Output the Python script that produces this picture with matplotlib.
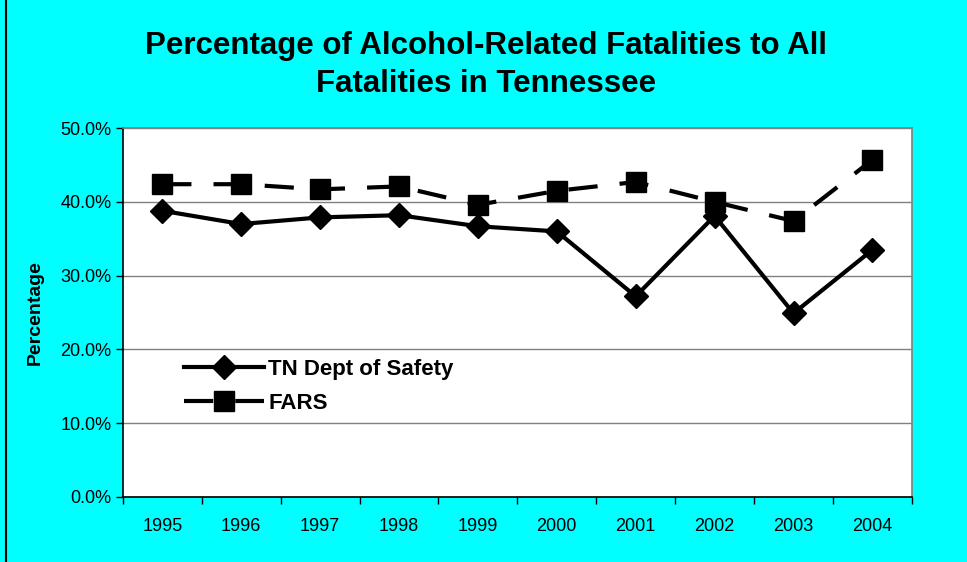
import matplotlib.pyplot as plt
from matplotlib.patches import Rectangle
from matplotlib.ticker import FixedLocator, PercentFormatter

years = ["1995", "1996", "1997", "1998", "1999", "2000", "2001", "2002", "2003", "2004"]
tn_safety = [38.8, 37.0, 37.9, 38.2, 36.7, 36.0, 27.2, 38.1, 24.9, 33.5]
fars = [42.4, 42.4, 41.7, 42.1, 39.6, 41.5, 42.7, 40.0, 37.4, 45.7]

CYAN = "#00ffff"
plt.rcParams["font.family"] = ["Liberation Sans", "DejaVu Sans"]


def main():
    fig = plt.figure(figsize=(9.67, 5.62), dpi=100, facecolor=CYAN)
    fig.patches.append(Rectangle((0.006, -0.01), 1.2, 1.2, transform=fig.transFigure,
                                 fill=False, edgecolor="black", linewidth=1.5))
    ax = fig.add_axes([0.127, 0.1157, 0.816, 0.6563])
    ax.set_facecolor("white")

    x = list(range(len(years)))
    ax.plot(x, tn_safety, color="black", linewidth=3, marker="D", markersize=12,
            label="TN Dept of Safety", zorder=3)
    ax.plot(x, fars, color="black", linewidth=3, linestyle=(0, (7, 5.3)), marker="s",
            markersize=15, label="FARS", zorder=3)

    ax.set_xlim(-0.5, len(years) - 0.5)
    ax.set_ylim(0, 50)
    ax.yaxis.set_major_locator(FixedLocator([0, 10, 20, 30, 40, 50]))
    ax.yaxis.set_major_formatter(PercentFormatter(decimals=1))
    ax.set_xticks(x)
    ax.set_xticklabels(years)
    ax.set_xticks([i - 0.5 for i in range(len(years) + 1)], minor=True)
    ax.tick_params(axis="x", which="major", length=0, pad=15, labelsize=13)
    ax.tick_params(axis="x", which="minor", length=5, width=1, direction="out")
    ax.tick_params(axis="y", length=5, width=1, direction="out", labelsize=13, pad=3)

    ax.grid(axis="y", color="#808080", linewidth=1)
    ax.set_axisbelow(True)
    for side in ("top", "right"):
        ax.spines[side].set_color("#808080")
        ax.spines[side].set_linewidth(1.2)
    for side in ("left", "bottom"):
        ax.spines[side].set_color("black")
        ax.spines[side].set_linewidth(1.2)

    ax.set_ylabel("Percentage", fontsize=14, fontweight="bold", labelpad=12)

    ax.legend(loc="center left", bbox_to_anchor=(0.052, 0.3), frameon=False,
              handlelength=3.6, handletextpad=0.2, labelspacing=0.6,
              prop={"size": 16, "weight": "bold"})

    fig.text(0.503, 0.884, "Percentage of Alcohol-Related Fatalities to All\nFatalities in Tennessee",
             ha="center", va="center", fontsize=22.5, fontweight="bold", linespacing=1.35)

    fig.savefig("out.png", dpi=100, facecolor=CYAN)
    plt.close(fig)


if __name__ == "__main__":
    main()
